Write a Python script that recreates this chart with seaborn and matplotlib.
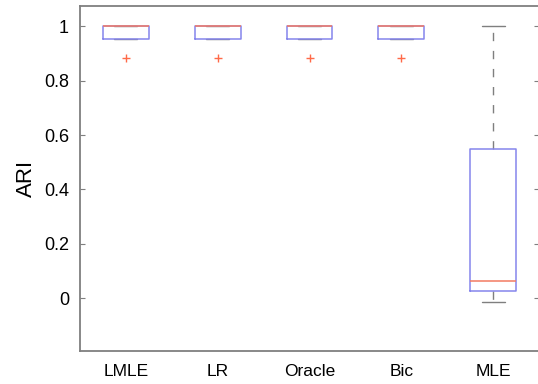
import matplotlib
matplotlib.use("Agg")
import matplotlib.pyplot as plt
import pandas as pd
import seaborn as sns

# Adjusted Rand Index of each clustering method over repeated runs
methods = ["LMLE", "LR", "Oracle", "Bic", "MLE"]
ari_lmle = [0.883, 0.955, 0.955, 0.955, 1, 1, 1, 1, 1, 1, 1, 1]
ari_lr = [0.883, 0.955, 0.955, 0.955, 1, 1, 1, 1, 1, 1, 1, 1]
ari_oracle = [0.883, 0.955, 0.955, 0.955, 1, 1, 1, 1, 1, 1, 1, 1]
ari_bic = [0.883, 0.955, 0.955, 0.955, 1, 1, 1, 1, 1, 1, 1, 1]
ari_mle = [-0.016, 0.01, 0.027, 0.04, 0.064, 0.25, 0.55, 0.8, 1.0]
y_ticks = [0, 0.2, 0.4, 0.6, 0.8, 1]
y_tick_labels = ["0", "0.2", "0.4", "0.6", "0.8", "1"]

series = [ari_lmle, ari_lr, ari_oracle, ari_bic, ari_mle]
df = pd.DataFrame(
    [(m, v) for m, vals in zip(methods, series) for v in vals],
    columns=["method", "ARI"],
)

sns.set_style("white")
plt.rcParams["font.family"] = ["Liberation Sans", "DejaVu Sans"]

fig = plt.figure(figsize=(5.38, 3.84), dpi=100)
ax = fig.add_axes([80 / 538, 1 - 351 / 384, 459 / 538, 345 / 384])

box_blue = "#8585ec"
med_red = "#f27a62"
grey = "#7f7f7f"

sns.boxplot(
    data=df, x="method", y="ARI", order=methods, ax=ax,
    width=0.5, fill=False, whis=1.5, linewidth=1.0, linecolor=box_blue,
    boxprops=dict(color=box_blue, linewidth=1.1, zorder=2),
    whiskerprops=dict(color=grey, linestyle=(0, (6, 7)), linewidth=1.0, zorder=1),
    capprops=dict(color=grey, linewidth=1.0, zorder=1),
    medianprops=dict(color=med_red, linewidth=1.1, zorder=3),
    flierprops=dict(marker="+", markeredgecolor="#ff6a48", markerfacecolor="none",
                    markersize=6, markeredgewidth=1.0, linestyle="none"),
)

ax.set_xlim(-0.5, 4.5)
ax.set_ylim(-0.195, 1.075)
ax.set_yticks(y_ticks)
ax.set_yticklabels(y_tick_labels)
ax.set_xlabel("")
ax.set_ylabel("ARI", fontsize=16, labelpad=5, color="black")

for side in ["left", "right", "top", "bottom"]:
    ax.spines[side].set_visible(True)
    ax.spines[side].set_color(grey)
    ax.spines[side].set_linewidth(1.3)

ax.tick_params(axis="y", direction="in", length=3.5, width=0.8, color=grey,
               left=True, right=True, labelsize=13, pad=8, labelcolor="black")
ax.tick_params(axis="x", length=0, labelsize=12.5, pad=9, labelcolor="black")

fig.savefig("out.png", dpi=100)
